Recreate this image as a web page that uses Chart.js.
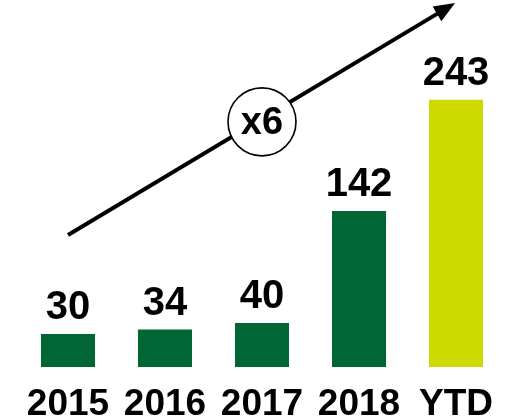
<!DOCTYPE html>
<html>
<head>
<meta charset="utf-8">
<script src="https://cdn.jsdelivr.net/npm/chart.js@4/dist/chart.umd.min.js"></script>
<style>
  html, body { margin: 0; padding: 0; background: #ffffff; }
  #wrap { width: 513px; height: 419px; }
</style>
</head>
<body>
<div id="wrap"><canvas id="chart" width="513" height="419"></canvas></div>
<script>
// Yearly totals, with the current year-to-date figure last
const categories = ['2015', '2016', '2017', '2018', 'YTD'];
const values = [30, 34, 40, 142, 243];
const barColors = ['#006633', '#006633', '#006633', '#006633', '#CDDA00'];

// Growth arrow, given in scale units (category index, value)
const arrowFrom = { x: 0, y: 120 };
const arrowTo = { x: 3.99, y: 331 };
const badge = { x: 2, y: 223, text: 'x6' };

const FONT = '"Liberation Sans", Arial, sans-serif';

const overlay = {
  id: 'overlay',
  afterDatasetsDraw(chart) {
    const { ctx, scales: { x, y } } = chart;
    const meta = chart.getDatasetMeta(0);

    // value labels above each bar
    ctx.save();
    ctx.fillStyle = '#000';
    ctx.font = 'bold 40px ' + FONT;
    ctx.textAlign = 'center';
    ctx.textBaseline = 'alphabetic';
    meta.data.forEach((bar, i) => {
      ctx.fillText(String(values[i]), bar.x, bar.y - 15);
    });
    ctx.restore();

    // arrow
    const x0 = x.getPixelForValue(arrowFrom.x), y0 = y.getPixelForValue(arrowFrom.y);
    const x1 = x.getPixelForValue(arrowTo.x), y1 = y.getPixelForValue(arrowTo.y);
    const ang = Math.atan2(y1 - y0, x1 - x0);
    const headLen = 21, headHalf = 8.5;
    const bx = x1 - headLen * Math.cos(ang), by = y1 - headLen * Math.sin(ang);
    ctx.save();
    ctx.strokeStyle = '#000';
    ctx.fillStyle = '#000';
    ctx.lineWidth = 4;
    ctx.lineCap = 'butt';
    ctx.beginPath();
    ctx.moveTo(x0, y0);
    ctx.lineTo(bx + 2 * Math.cos(ang), by + 2 * Math.sin(ang));
    ctx.stroke();
    ctx.beginPath();
    ctx.moveTo(x1, y1);
    ctx.lineTo(bx + headHalf * Math.sin(ang), by - headHalf * Math.cos(ang));
    ctx.lineTo(bx - headHalf * Math.sin(ang), by + headHalf * Math.cos(ang));
    ctx.closePath();
    ctx.fill();

    // multiplier badge
    const cx = x.getPixelForValue(badge.x), cy = y.getPixelForValue(badge.y);
    ctx.beginPath();
    ctx.arc(cx, cy, 34, 0, Math.PI * 2);
    ctx.fillStyle = '#fff';
    ctx.fill();
    ctx.lineWidth = 1.6;
    ctx.strokeStyle = '#000';
    ctx.stroke();
    ctx.fillStyle = '#000';
    ctx.font = 'bold 38px ' + FONT;
    ctx.textAlign = 'center';
    ctx.textBaseline = 'middle';
    ctx.fillText(badge.text, cx, cy + 2);
    ctx.restore();
  }
};

new Chart(document.getElementById('chart'), {
  type: 'bar',
  data: {
    labels: categories,
    datasets: [{
      data: values,
      backgroundColor: barColors,
      borderWidth: 0,
      barPercentage: 0.557,
      categoryPercentage: 1.0
    }]
  },
  options: {
    responsive: false,
    animation: false,
    events: [],
    layout: { padding: { left: 19.5, right: 8.5, top: 2, bottom: 0 } },
    plugins: { legend: { display: false }, tooltip: { enabled: false } },
    scales: {
      x: {
        grid: { display: false, drawTicks: false },
        border: { display: false },
        ticks: {
          color: '#000',
          padding: 16,
          font: { family: FONT, size: 37, weight: 'bold' }
        },
        afterFit(scale) { scale.height = 52; }
      },
      y: {
        display: false,
        min: 0,
        max: 332
      }
    }
  },
  plugins: [overlay]
});
</script>
</body>
</html>
